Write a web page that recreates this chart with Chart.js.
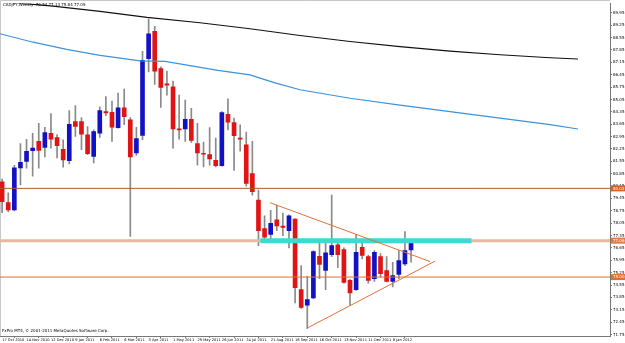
<!DOCTYPE html>
<html>
<head>
<meta charset="utf-8">
<script src="https://cdn.jsdelivr.net/npm/chart.js@4"></script>
<style>
  html, body { margin:0; padding:0; background:#fff; }
  #wrap { width:625px; height:343px; }
</style>
</head>
<body>
<div id="wrap"><canvas id="fxChart" width="625" height="343"></canvas></div>
<script>
  // CADJPY weekly, one candle per week starting 17 Oct 2010
  const open  = [80.39,79.21,78.80,81.18,81.55,82.15,82.68,82.34,83.14,82.90,82.23,81.59,83.80,83.80,83.05,81.83,83.14,84.36,84.32,83.46,84.57,83.90,82.02,83.01,87.36,88.90,86.80,85.94,85.77,83.39,83.39,83.93,82.56,81.99,81.93,81.61,81.31,84.21,83.74,82.86,82.49,80.86,79.36,77.75,77.42,78.24,77.89,77.62,78.28,74.29,73.41,73.82,76.18,75.37,76.27,76.83,76.55,74.81,74.29,76.68,76.16,74.91,76.16,75.37,74.76,75.15,75.75,76.54];
  const high  = [80.54,79.77,81.33,82.56,82.79,83.14,83.70,83.48,84.25,83.07,82.77,84.42,84.70,84.03,83.52,83.33,84.64,85.21,84.96,85.41,85.64,84.03,83.48,87.77,89.60,89.19,86.89,86.65,86.09,85.30,85.02,84.55,83.70,82.64,83.46,82.86,84.36,85.08,83.99,83.62,83.20,82.68,79.92,78.46,78.78,79.08,78.62,78.52,78.29,75.65,75.04,76.50,77.06,77.10,79.64,77.06,76.65,74.87,77.40,77.15,76.25,76.50,76.33,76.16,75.84,76.50,77.58,77.13];
  const low   = [78.65,78.69,78.74,80.21,81.16,80.71,81.16,81.80,82.30,81.74,81.22,81.40,82.96,82.21,81.93,81.46,82.90,84.14,82.68,83.42,83.62,77.30,81.89,82.77,86.61,85.90,84.60,85.30,82.30,82.81,82.68,82.62,81.33,81.23,81.33,81.23,81.27,83.33,81.03,82.12,80.15,79.63,76.78,76.95,77.12,77.62,77.34,76.65,73.54,73.22,72.10,73.78,74.91,74.29,76.16,75.53,74.66,73.41,74.25,76.03,74.66,74.76,75.00,74.72,74.44,74.91,75.65,75.84];
  const close = [79.27,78.80,81.18,81.50,82.12,82.30,82.17,83.18,82.81,82.44,81.63,83.65,83.52,83.09,81.99,83.24,84.42,84.29,83.48,84.57,84.08,81.80,82.83,87.27,88.76,86.65,85.73,85.86,83.39,83.33,83.93,82.73,82.02,81.95,81.68,81.31,84.31,83.76,83.00,82.81,80.30,79.83,77.62,77.26,78.04,77.90,77.81,78.46,74.40,73.28,73.73,76.44,75.71,76.37,76.78,76.27,74.70,74.10,76.40,76.22,74.81,76.40,75.19,74.76,75.09,75.94,76.50,77.09];

  // date labels, every 4th weekly bar
  const dateTicks  = [0,4,8,12,16,20,24,28,32,36,40,44,48,52,56,60,64];
  const dateLabels = ['17 Oct 2010','14 Nov 2010','12 Dec 2010','9 Jan 2011','6 Feb 2011','6 Mar 2011','3 Apr 2011','1 May 2011','29 May 2011','26 Jun 2011','24 Jul 2011','21 Aug 2011','18 Sep 2011','16 Oct 2011','13 Nov 2011','11 Dec 2011','8 Jan 2012'];
  const priceTicks = [71.75,72.45,73.15,73.85,74.55,75.25,75.95,76.65,77.35,78.05,78.75,79.45,80.15,80.85,81.55,82.25,82.95,83.65,84.35,85.05,85.75,86.45,87.15,87.85,88.55,89.25,89.95];

  // moving averages (shifted forward)
  const slowMaX = [-0.35,8.33,16.04,23.74,32.42,40.61,48.81,57.0,65.19,73.38,81.58,89.77,94.36];
  const slowMaY = [90.60,90.33,90.04,89.70,89.39,89.05,88.67,88.33,88.04,87.79,87.58,87.41,87.34];
  const fastMaX = [-0.35,5.06,10.58,16.04,22.59,26.69,35.37,40.61,44.71,48.81,57.0,65.19,73.38,81.58,89.77,94.36];
  const fastMaY = [88.77,88.29,87.88,87.55,87.23,87.20,86.70,86.44,85.99,85.60,85.12,84.73,84.36,83.99,83.63,83.38];

  // drawn objects
  const resistLevel = 80.02;
  const pivotLevel  = 77.06;
  const supportLevel = 75.00;
  const zoneFrom = 42.3, zoneTo = 76.9;
  const triUpperX = [43.89, 70.11], triUpperY = [79.21, 75.88];
  const triLowerX = [49.9, 70.93],  triLowerY = [72.10, 75.90];

  const xMin = -0.35, xMax = 99.6;
  const yMin = 71.666, yMax = 90.486;

  const UP = '#1212c4', DOWN = '#e01414';

  const pts = (xs, ys) => xs.map((x, i) => ({ x: x, y: ys[i] }));
  const hline = (v) => [{ x: xMin, y: v }, { x: xMax, y: v }];
  const lineDs = (data, color, width) => ({
    type: 'line', data: data, borderColor: color, borderWidth: width,
    pointRadius: 0, tension: 0, fill: false
  });

  const overlay = {
    id: 'overlay',
    beforeDraw(chart) {
      const ctx = chart.ctx, a = chart.chartArea;
      ctx.save();
      ctx.strokeStyle = '#c8c8c8';
      ctx.lineWidth = 1;
      ctx.beginPath();
      ctx.moveTo(0.5, a.bottom); ctx.lineTo(0.5, 0.5); ctx.lineTo(a.right, 0.5);
      ctx.stroke();
      ctx.restore();
    },
    afterDraw(chart) {
      const ctx = chart.ctx, a = chart.chartArea, ys = chart.scales.y;
      ctx.save();
      ctx.font = '4px "DejaVu Sans"';
      ctx.fillStyle = '#000';
      ctx.textBaseline = 'middle';
      ctx.fillText('CADJPY,Weekly  76.54 77.13 75.84 77.09', 3, 4.5);
      ctx.fillText('FxPro MT4, \u00a9 2001-2011 MetaQuotes Software Corp.', 2, 331);
      // price tags on the axis
      const tags = [[resistLevel, '#d0602a', '80.02'], [pivotLevel, '#e07a45', '77.06'], [supportLevel, '#e0702a', '75.00']];
      tags.forEach(t => {
        const y = ys.getPixelForValue(t[0]);
        ctx.fillStyle = t[1];
        ctx.fillRect(a.right + 1, y - 3, 14, 6);
        ctx.fillStyle = '#fff';
        ctx.fillText(t[2], a.right + 3, y + 0.3);
      });
      ctx.restore();
    }
  };

  const ctx = document.getElementById('fxChart').getContext('2d');
  new Chart(ctx, {
    type: 'bar',
    data: {
      datasets: [
        lineDs(pts(triUpperX, triUpperY), '#e0703a', 1),
        lineDs(pts(triLowerX, triLowerY), '#e0703a', 1),
        lineDs([{ x: zoneFrom, y: pivotLevel }, { x: zoneTo, y: pivotLevel }], '#3fd8d2', 5),
        lineDs(hline(pivotLevel), '#e9b8a2', 3),
        lineDs(hline(resistLevel), '#b0582c', 1),
        lineDs(hline(supportLevel), '#e07030', 1),
        lineDs(pts(slowMaX, slowMaY), '#111', 1.2),
        lineDs(pts(fastMaX, fastMaY), '#3d92dc', 1.2),
        {
          label: 'body',
          data: open.map((o, i) => ({ x: i, y: [o, close[i]] })),
          backgroundColor: open.map((o, i) => close[i] >= o ? UP : DOWN),
          barThickness: 4, minBarLength: 1, grouped: false
        },
        {
          label: 'wick',
          data: high.map((h, i) => ({ x: i, y: [low[i], h] })),
          backgroundColor: '#8a8a8a',
          barThickness: 1, grouped: false
        }
      ]
    },
    options: {
      responsive: false,
      animation: false,
      layout: { padding: { top: 1, left: 0, right: 0, bottom: 0 } },
      plugins: { legend: { display: false }, tooltip: { enabled: false } },
      scales: {
        x: {
          type: 'linear', min: xMin, max: xMax, offset: false,
          afterBuildTicks: s => { s.ticks = dateTicks.map(v => ({ value: v })); },
          afterFit: s => { s.height = 7; },
          ticks: {
            autoSkip: false, maxRotation: 0, align: 'start', padding: 0,
            font: { size: 3.6, family: 'DejaVu Sans' }, color: '#000',
            callback: v => dateLabels[dateTicks.indexOf(v)]
          },
          grid: { drawOnChartArea: false, tickLength: 2, color: '#777' },
          border: { color: '#777' }
        },
        y: {
          position: 'right', min: yMin, max: yMax,
          afterBuildTicks: s => { s.ticks = priceTicks.map(v => ({ value: v })); },
          afterFit: s => { s.width = 15; },
          ticks: {
            padding: 1, font: { size: 4, family: 'DejaVu Sans' }, color: '#000',
            callback: v => v.toFixed(2)
          },
          grid: { drawOnChartArea: false, tickLength: 2, color: '#777' },
          border: { color: '#777' }
        }
      }
    },
    plugins: [overlay]
  });
</script>
</body>
</html>
